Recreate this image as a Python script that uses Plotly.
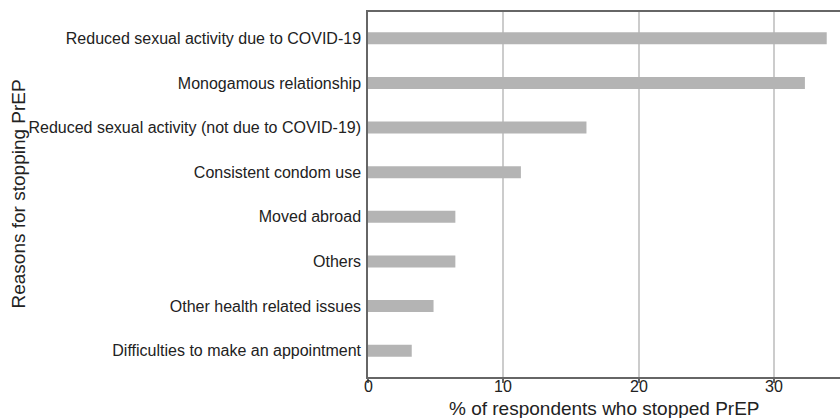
import plotly.graph_objects as go

reasons = [
    "Reduced sexual activity due to COVID-19",
    "Monogamous relationship",
    "Reduced sexual activity (not due to COVID-19)",
    "Consistent condom use",
    "Moved abroad",
    "Others",
    "Other health related issues",
    "Difficulties to make an appointment",
]
percent = [33.87, 32.26, 16.13, 11.29, 6.45, 6.45, 4.84, 3.23]
x_ticks = [0, 10, 20, 30]
x_title = "% of respondents who stopped PrEP"
y_title = "Reasons for stopping PrEP"

FONT = "Liberation Sans, Arial, Helvetica, sans-serif"
TXT = "#222222"

fig = go.Figure()
fig.add_trace(go.Bar(
    x=percent, y=reasons, orientation="h",
    marker=dict(color="#b4b4b4", line=dict(width=0)),
    width=0.27,
))

L, R, T, B = 368, 0, 12, 41
W, H = 840, 418
PH = H - T - B

annotations = [
    dict(text=str(v), xref="x", yref="paper", x=v, y=(377 - 386) / PH,
         xanchor="center", yanchor="middle", showarrow=False,
         font=dict(size=16, color=TXT, family=FONT))
    for v in x_ticks
]
annotations += [
    dict(text=x_title, xref="paper", yref="paper",
         x=0.5, y=(377 - 408) / PH, xanchor="center", yanchor="middle",
         showarrow=False, font=dict(size=19, color=TXT, family=FONT)),
    dict(text=y_title, xref="paper", yref="paper",
         x=(18 - L) / (W - L - R), y=0.5, xanchor="center", yanchor="middle",
         textangle=-90,
         showarrow=False, font=dict(size=19, color=TXT, family=FONT)),
]

fig.update_layout(
    width=W, height=H,
    margin=dict(l=L, r=R, t=T, b=B),
    paper_bgcolor="white", plot_bgcolor="white",
    showlegend=False,
    font=dict(family=FONT, color=TXT),
    xaxis=dict(
        range=[0, 34.85],
        tickvals=x_ticks,
        showticklabels=False,
        showgrid=True, gridcolor="#cccccc", gridwidth=1.5,
        showline=True, linecolor="#666666", linewidth=1.5, mirror=True,
        ticks="outside", ticklen=4, tickcolor="#666666", tickwidth=1.5,
        zeroline=False,
    ),
    yaxis=dict(
        categoryorder="array", categoryarray=reasons,
        range=[7.59, -0.59],
        showgrid=False,
        showline=True, linecolor="#666666", linewidth=1.5,
        ticks="", ticklabelstandoff=2,
        tickfont=dict(size=16, color=TXT),
        zeroline=False,
    ),
    annotations=annotations,
)

fig.write_html(
    "out.html",
    config={"displayModeBar": False},
    post_script="document.body.style.margin='0';document.body.style.padding='0';document.body.style.overflow='hidden';",
)
